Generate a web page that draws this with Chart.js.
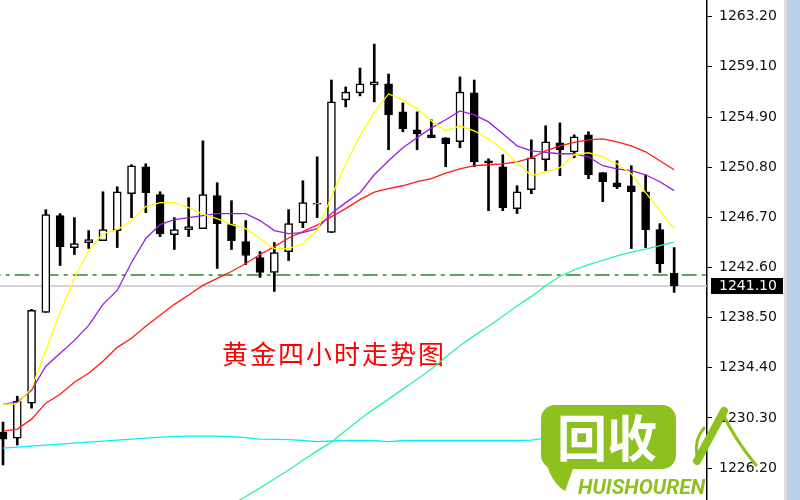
<!DOCTYPE html>
<html>
<head>
<meta charset="utf-8">
<script src="https://cdn.jsdelivr.net/npm/chart.js@4.4.0/dist/chart.umd.min.js"></script>
<style>
  html, body { margin: 0; padding: 0; background: #fff; }
  #wrap { width: 800px; height: 500px; }
</style>
</head>
<body>
<div id="wrap"><canvas id="goldChart" width="800" height="500"></canvas></div>
<script>
// 4h gold candles (index = bar number)
const candleOpen = [1229.14, 1228.65, 1231.51, 1238.94, 1246.86, 1244.25, 1244.66, 1244.82, 1245.64, 1248.66, 1250.87, 1248.58, 1245.31, 1245.72, 1245.80, 1248.50, 1246.13, 1244.74, 1243.43, 1242.21, 1243.92, 1246.29, 1247.80, 1245.48, 1256.34, 1256.91, 1257.56, 1257.65, 1255.36, 1253.89, 1253.48, 1253.24, 1252.91, 1256.91, 1251.36, 1250.87, 1247.44, 1248.99, 1251.44, 1252.83, 1252.09, 1253.48, 1250.38, 1249.56, 1249.31, 1248.82, 1245.72, 1242.13];
const candleHigh = [1229.96, 1232.08, 1239.19, 1247.35, 1247.03, 1246.70, 1245.64, 1248.82, 1249.23, 1251.03, 1251.11, 1248.82, 1246.70, 1248.33, 1252.99, 1249.56, 1248.09, 1246.46, 1243.92, 1244.66, 1247.35, 1249.72, 1251.68, 1257.97, 1257.40, 1258.95, 1260.91, 1258.46, 1256.09, 1255.36, 1254.71, 1253.24, 1258.22, 1257.97, 1251.52, 1251.85, 1249.31, 1253.07, 1254.22, 1254.46, 1253.48, 1253.73, 1250.38, 1251.36, 1250.95, 1250.21, 1246.21, 1244.25];
const candleLow = [1226.45, 1228.08, 1231.10, 1238.94, 1242.78, 1243.68, 1244.17, 1244.82, 1244.25, 1246.70, 1247.11, 1245.15, 1244.09, 1245.15, 1245.80, 1242.54, 1244.09, 1242.86, 1241.80, 1240.66, 1243.19, 1245.88, 1246.70, 1245.48, 1255.77, 1256.67, 1256.18, 1252.26, 1253.73, 1252.26, 1253.24, 1250.87, 1252.42, 1250.87, 1247.27, 1247.27, 1247.03, 1248.66, 1250.54, 1250.13, 1251.60, 1249.89, 1248.01, 1249.07, 1244.17, 1244.25, 1242.21, 1240.58];
const candleClose = [1228.57, 1231.67, 1239.11, 1246.95, 1244.33, 1244.58, 1244.90, 1245.72, 1248.82, 1250.95, 1248.74, 1245.39, 1245.72, 1245.97, 1248.58, 1246.21, 1244.82, 1243.60, 1242.21, 1243.84, 1246.21, 1247.93, 1247.88, 1256.18, 1256.99, 1257.65, 1257.81, 1255.11, 1253.97, 1253.56, 1253.24, 1252.75, 1256.99, 1251.27, 1251.19, 1247.52, 1248.82, 1251.60, 1252.91, 1252.26, 1253.32, 1250.21, 1249.64, 1249.23, 1248.82, 1245.72, 1242.94, 1241.10];

// moving averages as shown on the chart
const maYellow = [1231.43, 1231.43, 1232.73, 1235.84, 1238.94, 1241.72, 1244.01, 1245.39, 1245.72, 1246.46, 1247.60, 1247.93, 1247.93, 1247.52, 1246.99, 1246.62, 1246.13, 1245.80, 1244.99, 1244.17, 1244.17, 1244.58, 1245.64, 1248.42, 1251.11, 1253.40, 1255.32, 1256.83, 1256.34, 1255.60, 1254.62, 1253.81, 1254.22, 1253.81, 1253.15, 1252.26, 1251.19, 1250.13, 1250.46, 1250.79, 1251.85, 1252.01, 1251.68, 1251.11, 1250.29, 1248.74, 1247.27, 1245.80];
const maPurple = [1231.43, 1231.59, 1232.57, 1234.53, 1235.59, 1236.65, 1237.88, 1239.60, 1240.74, 1243.03, 1244.99, 1246.13, 1246.54, 1246.70, 1246.86, 1247.03, 1247.03, 1247.03, 1246.46, 1245.64, 1245.39, 1245.48, 1245.80, 1247.03, 1247.93, 1248.74, 1250.21, 1251.36, 1252.42, 1253.24, 1254.05, 1254.71, 1255.44, 1255.11, 1254.54, 1253.56, 1252.58, 1252.17, 1252.05, 1251.93, 1251.93, 1251.68, 1250.95, 1250.70, 1250.54, 1250.21, 1249.64, 1248.91];
const maRed = [1229.22, 1229.39, 1230.20, 1231.51, 1232.24, 1233.22, 1233.96, 1234.94, 1236.08, 1236.82, 1237.80, 1238.70, 1239.60, 1240.37, 1241.15, 1241.72, 1242.29, 1242.94, 1243.68, 1244.33, 1245.03, 1245.56, 1246.09, 1246.78, 1247.44, 1248.17, 1248.78, 1249.07, 1249.31, 1249.64, 1249.89, 1250.34, 1250.70, 1250.95, 1251.03, 1251.11, 1251.27, 1251.60, 1252.17, 1252.58, 1252.87, 1253.07, 1253.15, 1252.91, 1252.58, 1252.09, 1251.36, 1250.62];
const maGreen = [null, null, null, null, null, null, null, null, null, null, null, null, null, null, null, null, 1223.18, 1223.87, 1224.57, 1225.30, 1226.04, 1226.83, 1227.60, 1228.32, 1229.27, 1230.20, 1231.04, 1231.84, 1232.66, 1233.47, 1234.30, 1235.27, 1236.21, 1237.04, 1237.80, 1238.63, 1239.46, 1240.25, 1241.13, 1241.88, 1242.42, 1242.86, 1243.21, 1243.56, 1243.87, 1244.13, 1244.41, 1244.70];
const maCyan = [1227.83, 1227.91, 1227.99, 1228.08, 1228.16, 1228.24, 1228.32, 1228.40, 1228.49, 1228.57, 1228.65, 1228.73, 1228.77, 1228.81, 1228.81, 1228.81, 1228.76, 1228.69, 1228.57, 1228.54, 1228.53, 1228.45, 1228.36, 1228.41, 1228.43, 1228.43, 1228.43, 1228.36, 1228.43, 1228.43, 1228.43, 1228.43, 1228.43, 1228.43, 1228.43, 1228.43, 1228.43, 1228.49, 1228.65, 1228.69, 1228.69, 1228.69, 1228.69, 1228.69, 1228.69, 1228.69, 1228.69, 1228.69];

const priceTicks = [1263.20, 1259.10, 1254.90, 1250.80, 1246.70, 1242.60, 1238.50, 1234.40, 1230.30, 1226.20];
const levelDash = 1242.0;
const lastPrice = 1241.10;
const chartTitle = '黄金四小时走势图';

const xMin = -0.21, xMax = 49.3;
const yMin = 1223.58, yMax = 1264.52;
const tickFont = { family: 'DejaVu Sans', size: 14 };

const pts = arr => arr.map((v, i) => ({ x: i, y: v }));
const hline = v => [{ x: xMin - 1, y: v }, { x: xMax + 1, y: v }];

const decor = {
  id: 'decor',
  beforeDraw(chart) {
    const ctx = chart.ctx;
    ctx.save();
    ctx.fillStyle = '#fff';
    ctx.fillRect(0, 0, chart.width, chart.height);
    ctx.fillStyle = '#dedede';
    ctx.fillRect(784, 0, 3, chart.height);
    ctx.fillStyle = '#b9d1ea';
    ctx.fillRect(787, 0, 13, chart.height);
    ctx.restore();
  },
  beforeDatasetsDraw(chart) {
    const ctx = chart.ctx;
    ctx.save();
    ctx.fillStyle = '#ff0000';
    ctx.font = '26px "Noto Sans CJK SC"';
    ctx.letterSpacing = '2px';
    ctx.textBaseline = 'middle';
    ctx.fillText(chartTitle, 222, 354);
    ctx.restore();
  },
  afterDraw(chart) {
    const ctx = chart.ctx;
    const y = chart.scales.y.getPixelForValue(lastPrice);
    ctx.save();
    // last price tag
    ctx.fillStyle = '#000';
    ctx.fillRect(711, y - 8, 72, 16);
    ctx.fillStyle = '#fff';
    ctx.font = '14px "DejaVu Sans"';
    ctx.textBaseline = 'middle';
    ctx.fillText(lastPrice.toFixed(2), 719, y);

    // watermark
    const g = '#8cc11f';
    ctx.fillStyle = g;
    ctx.beginPath();
    ctx.roundRect(541, 405, 135, 64, 14);
    ctx.fill();
    ctx.beginPath();
    ctx.moveTo(542, 440);
    ctx.quadraticCurveTo(546, 480, 565, 491);
    ctx.lineTo(574, 466);
    ctx.closePath();
    ctx.fill();
    ctx.fillStyle = '#fff';
    ctx.font = 'bold 50px "Noto Sans CJK SC"';
    ctx.textAlign = 'center';
    ctx.textBaseline = 'middle';
    ctx.fillText('回收', 607, 438);
    ctx.fillStyle = g;
    ctx.font = 'italic bold 21px Roboto';
    ctx.textAlign = 'left';
    ctx.textBaseline = 'alphabetic';
    ctx.fillText('HUISHOUREN', 578, 494);
    ctx.strokeStyle = g;
    ctx.lineCap = 'round';
    ctx.lineWidth = 8;
    ctx.beginPath();
    ctx.moveTo(697, 461);
    ctx.lineTo(724, 411);
    ctx.stroke();
    ctx.lineWidth = 3;
    ctx.beginPath();
    ctx.moveTo(722, 412);
    ctx.quadraticCurveTo(735, 440, 756, 465);
    ctx.stroke();
    ctx.beginPath();
    ctx.moveTo(704, 428);
    ctx.quadraticCurveTo(694, 440, 697, 455);
    ctx.stroke();
    ctx.restore();
  }
};

new Chart(document.getElementById('goldChart'), {
  type: 'bar',
  data: {
    datasets: [
      {
        type: 'line', data: pts(maYellow), borderColor: '#ffff00', borderWidth: 1.3,
        pointRadius: 0, tension: 0, order: 1,
      },
      {
        type: 'line', data: pts(maPurple), borderColor: '#9a1ee0', borderWidth: 1.3,
        pointRadius: 0, tension: 0, order: 1,
      },
      {
        type: 'line', data: pts(maRed), borderColor: '#ff1a1a', borderWidth: 1.3,
        pointRadius: 0, tension: 0, order: 1,
      },
      {
        type: 'line', data: pts(maGreen), borderColor: '#2cf597', borderWidth: 1.3,
        pointRadius: 0, tension: 0, order: 1,
      },
      {
        type: 'line', data: pts(maCyan), borderColor: '#00f0ff', borderWidth: 1.3,
        pointRadius: 0, tension: 0, order: 1,
      },
      {
        // candle bodies
        data: candleOpen.map((o, i) => ({ x: i, y: [o, candleClose[i]] })),
        backgroundColor: candleOpen.map((o, i) => candleClose[i] >= o ? '#fff' : '#000'),
        borderColor: '#000', borderWidth: 1.5, borderSkipped: false,
        barThickness: 8, grouped: false, order: 2,
      },
      {
        // wicks
        data: candleLow.map((l, i) => ({ x: i, y: [l, candleHigh[i]] })),
        backgroundColor: '#000', borderWidth: 0,
        barThickness: 2, grouped: false, order: 3,
      },
      {
        type: 'line', data: hline(levelDash), borderColor: '#2a8a2a', borderWidth: 1.5,
        borderDash: [15, 5, 4, 5], pointRadius: 0, order: 4,
      },
      {
        type: 'line', data: hline(lastPrice), borderColor: '#c6c6c6', borderWidth: 1.5,
        pointRadius: 0, order: 4,
      },
    ],
  },
  options: {
    responsive: false,
    animation: false,
    layout: { padding: 0 },
    plugins: { legend: { display: false }, tooltip: { enabled: false } },
    scales: {
      x: { type: 'linear', min: xMin, max: xMax, offset: false, display: false },
      y: {
        type: 'linear',
        position: 'right',
        min: yMin,
        max: yMax,
        afterFit: scale => {
          scale.width = 93;
          scale.paddingTop = 0;
          scale.paddingBottom = 0;
        },
        afterBuildTicks: scale => { scale.ticks = priceTicks.map(v => ({ value: v })); },
        grid: { drawOnChartArea: false, color: '#000', tickLength: 5 },
        border: { display: true, color: '#000', width: 1.5 },
        ticks: {
          autoSkip: false,
          padding: 7,
          color: '#111',
          font: tickFont,
          callback: v => Number(v).toFixed(2),
        },
      },
    },
  },
  plugins: [decor],
});
</script>
</body>
</html>
